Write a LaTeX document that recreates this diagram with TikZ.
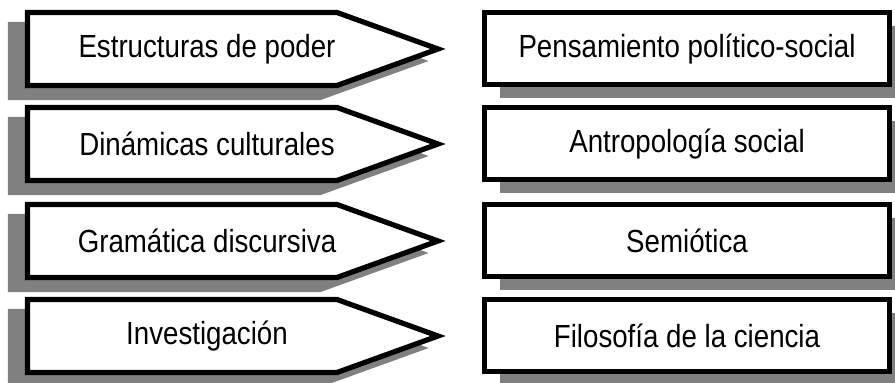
\documentclass[tikz,border=0pt]{standalone}
\usepackage{fontspec}
\setmainfont[FakeStretch=0.865]{Liberation Sans}
\usetikzlibrary{shadows}
\definecolor{cShade}{RGB}{128,128,128}
\tikzset{
	srcbox/.style   ={draw=black, line width=2.6pt, fill=white, miter limit=10},
	srcshade/.style ={draw=cShade, fill=cShade, line width=2.6pt, miter limit=10},
	srclabel/.style ={inner sep=0pt, font=\fontsize{16}{19}\selectfont},
	dstbox/.style   ={rectangle, draw=black, line width=2.5pt, fill=white,
		minimum width=202.5pt, minimum height=36pt, font=\fontsize{16}{19}\selectfont,
		drop shadow={shadow xshift=7.5pt, shadow yshift=-6.5pt, fill=cShade, opacity=1}},
}

\begin{document}
\begin{tikzpicture}[x=0.5pt, y=-0.5pt]
	\useasboundingbox (0,0) rectangle (895,383);
	\clip (0,0) rectangle (895,383);
	\foreach \c/\lt/\rt [count=\i] in {
			49/Estructuras de poder/Pensamiento político-social,
			144/Dinámicas culturales/Antropología social,
			241/Gramática discursiva/Semiótica,
			336/Investigación/Filosofía de la ciencia} {
		% arrow tag on the left, shadow first
		\draw[srcshade, shift={(-17,12)}] (27.5,\c-36.5) -- (337,\c-36.5) -- (438,\c) -- (337,\c+36.5) -- (27.5,\c+36.5) -- cycle;
		\draw[srcbox] (27.5,\c-36.5) -- (337,\c-36.5) -- (438,\c) -- (337,\c+36.5) -- (27.5,\c+36.5) -- cycle;
		\node[srclabel] (src\i) at (207,\c) {\lt};
		% field box on the right
		\node[dstbox] (dst\i) at (687,\c) {\rt};
	}
\end{tikzpicture}
\end{document}
